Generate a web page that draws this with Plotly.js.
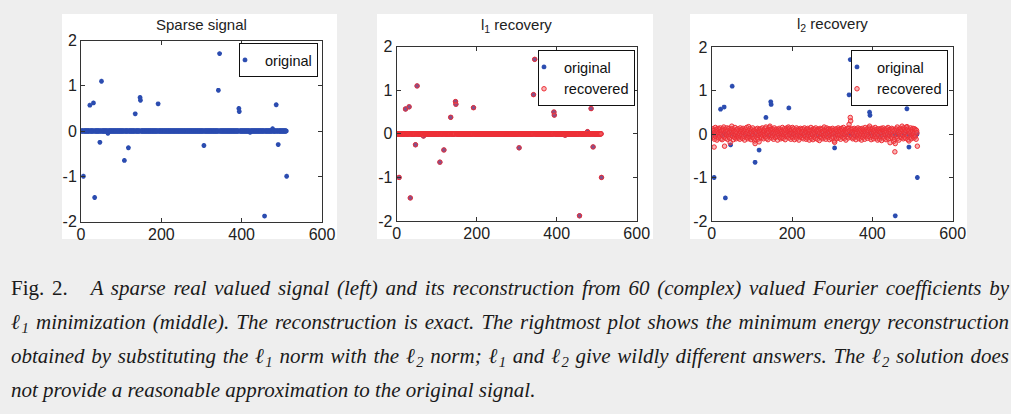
<!DOCTYPE html>
<html>
<head>
<meta charset="utf-8">
<script src="https://cdn.plot.ly/plotly-3.0.1.min.js"></script>
<style>
html,body{margin:0;padding:0;background:#eeeeee;overflow:hidden;width:1011px;height:414px;}
#chart{position:absolute;left:0;top:0;width:1011px;height:414px;}
#caption{position:absolute;left:11px;top:271px;width:998px;font-family:'Liberation Serif','Times New Roman',serif;font-size:21px;color:#1a1a1a;}
#caption .ln{height:34px;line-height:34px;white-space:nowrap;text-align:justify;text-align-last:justify;font-style:italic;}
#caption .ln.last{text-align:left;text-align-last:left;}
#caption .up{font-style:normal;}
#caption sub{font-size:0.7em;line-height:0;vertical-align:-0.3em;}
</style>
</head>
<body>
<div id="chart"></div>
<div id="caption"></div>
<script>
// ---- data ----
const signalLength = 512;
const spikeIdx = [6, 22, 31, 34, 47, 51, 67, 108, 118, 135, 147, 148, 192, 306, 342, 345, 393, 394, 421, 457, 477, 486, 491, 512];
const spikeVal = [-1.00, 0.57, 0.62, -1.47, -0.25, 1.10, -0.05, -0.65, -0.37, 0.38, 0.74, 0.68, 0.60, -0.32, 0.90, 1.71, 0.50, 0.43, -0.03, -1.88, 0.05, 0.58, -0.30, -1.00];
const l2Recovered = [
0.05,-0.08,0.12,-0.03,0.09,-0.30,-0.12,0.04,0.15,-0.06,0.02,0.11,-0.14,0.07,-0.02,0.13,-0.09,0.03,0.10,-0.05,0.14,0.06,-0.11,0.01,0.08,-0.13,0.12,-0.04,0.09,0.16,-0.07,-0.28,
0.03,0.11,-0.10,0.06,-0.02,0.14,-0.12,0.08,0.00,-0.06,0.13,0.04,-0.09,-0.20,0.10,-0.03,0.07,0.18,0.12,-0.05,0.02,-0.13,0.09,0.05,-0.08,0.15,-0.01,0.06,-0.11,0.10,0.03,-0.07,
0.12,-0.04,-0.09,0.08,0.01,-0.12,0.14,0.05,-0.06,0.10,-0.02,0.07,-0.10,0.13,0.03,-0.05,0.09,-0.14,0.06,0.11,-0.03,0.02,0.15,-0.08,0.04,-0.11,0.08,0.17,-0.06,0.01,0.12,-0.09,
0.05,-0.13,0.10,0.03,-0.07,0.14,-0.02,0.06,-0.10,0.09,-0.16,-0.22,0.04,-0.05,0.11,0.02,-0.08,0.13,-0.12,0.07,-0.03,-0.18,0.10,0.05,-0.06,0.12,0.00,-0.09,0.08,0.14,-0.04,0.03,
-0.11,0.09,0.06,-0.02,0.13,-0.07,0.16,0.04,-0.10,0.08,0.01,-0.13,0.11,0.05,-0.05,0.15,0.18,0.10,-0.03,0.07,-0.09,0.12,0.02,-0.06,0.10,-0.12,0.04,0.14,-0.01,0.08,-0.08,0.03,
0.11,-0.05,0.07,-0.14,0.02,0.09,-0.03,0.13,-0.08,0.05,0.10,-0.11,0.01,0.06,-0.07,0.15,0.03,-0.10,0.08,-0.02,0.12,0.04,-0.13,0.09,0.00,-0.06,0.14,0.07,-0.04,0.11,0.16,-0.09,
0.06,0.13,-0.02,0.08,-0.12,0.03,0.10,-0.06,0.15,-0.09,0.04,0.12,-0.01,-0.13,0.07,0.09,-0.05,0.02,0.14,-0.10,0.05,-0.03,0.11,0.08,-0.14,0.01,0.06,-0.07,0.13,-0.04,0.10,0.03,
-0.08,0.12,0.05,-0.11,0.09,-0.02,0.14,0.00,-0.06,0.07,-0.12,0.11,0.04,-0.09,0.13,-0.03,0.06,0.10,-0.14,0.02,0.08,-0.05,0.15,-0.10,0.03,0.09,-0.01,-0.13,0.12,0.05,-0.07,0.11,
0.02,-0.10,0.14,0.07,-0.04,0.09,-0.12,0.05,0.11,-0.02,0.08,-0.15,0.03,0.13,-0.06,0.10,-0.09,0.01,0.12,0.06,-0.11,0.04,-0.03,0.16,-0.07,0.09,0.00,-0.12,0.07,0.14,-0.05,0.02,
0.10,-0.08,0.06,0.12,-0.13,0.03,-0.04,0.11,0.08,-0.10,0.05,-0.01,0.13,-0.07,0.02,0.09,-0.16,-0.19,0.04,0.10,-0.06,0.12,-0.11,0.07,0.01,-0.03,0.14,-0.09,0.05,0.11,-0.02,0.08,
-0.12,0.06,0.13,-0.05,0.02,0.10,-0.08,0.15,0.04,-0.10,0.09,-0.01,0.07,-0.14,0.11,0.03,-0.06,0.12,0.05,-0.09,0.14,0.22,0.08,-0.03,0.38,0.30,0.10,-0.07,0.04,0.12,-0.11,0.06,
0.01,-0.09,0.13,0.07,-0.04,0.10,-0.13,0.05,0.02,0.11,-0.07,0.14,-0.02,0.08,-0.11,0.04,0.12,-0.05,0.09,0.00,-0.14,0.06,0.13,-0.08,0.03,0.10,-0.03,0.07,-0.12,0.15,0.05,-0.06,
0.09,-0.01,0.12,-0.10,0.04,0.08,-0.05,0.14,0.18,0.11,-0.08,0.06,-0.13,0.02,0.10,-0.04,0.13,0.07,-0.11,0.03,0.09,-0.06,0.15,-0.02,0.05,-0.09,0.11,0.01,-0.14,0.08,0.12,-0.03,
0.06,-0.12,0.10,0.04,-0.07,0.13,-0.15,0.02,0.09,-0.05,0.14,0.07,-0.10,0.03,0.11,-0.02,0.08,-0.13,0.05,0.12,-0.08,0.00,0.15,-0.11,0.06,0.10,-0.04,-0.20,0.09,0.03,-0.07,0.13,
-0.09,0.05,0.11,-0.03,-0.17,0.08,-0.12,-0.41,-0.22,0.04,0.12,-0.06,0.09,0.16,-0.10,0.03,0.07,-0.14,0.11,0.01,-0.05,0.13,0.06,-0.08,0.10,0.18,-0.02,0.09,-0.11,0.14,0.04,-0.07,
0.12,0.03,-0.10,0.08,0.15,0.17,-0.04,0.11,-0.13,0.06,-0.16,0.09,0.02,-0.08,0.14,0.05,-0.11,0.10,-0.03,0.07,0.13,-0.06,0.01,-0.09,0.12,0.04,-0.05,0.10,-0.12,0.08,0.03,-0.28
];
const xTicks = [0, 200, 400, 600];
const yTicks = [-2, -1, 0, 1, 2];
const panelTitles = ['Sparse signal', 'l<sub>1</sub> recovery', 'l<sub>2</sub> recovery'];
const captionLines = [
  '<span class="up">Fig. 2.</span>&nbsp;&nbsp; A sparse real valued signal (left) and its reconstruction from 60 (complex) valued Fourier coefficients by',
  'ℓ<sub>1</sub> minimization (middle). The reconstruction is exact. The rightmost plot shows the minimum energy reconstruction',
  'obtained by substituting the ℓ<sub>1</sub> norm with the ℓ<sub>2</sub> norm; ℓ<sub>1</sub> and ℓ<sub>2</sub> give wildly different answers. The ℓ<sub>2</sub> solution does',
  'not provide a reasonable approximation to the original signal.'
];

// ---- derived series ----
const indices = Array.from({length: signalLength}, (_, i) => i + 1);
const original = indices.map(i => { const k = spikeIdx.indexOf(i); return k >= 0 ? spikeVal[k] : 0; });
const l1Recovered = original.slice(); // exact reconstruction
const l2x = l2Recovered.map((_, i) => i + 1);

// ---- caption (real text, justified like the paper) ----
const cap = document.getElementById('caption');
captionLines.forEach((t, i) => {
  const d = document.createElement('div');
  d.className = 'ln' + (i === captionLines.length - 1 ? ' last' : '');
  d.innerHTML = t;
  cap.appendChild(d);
});

// ---- styling ----
const W = 1011, H = 414;
const BLUE = '#2b4cb0', RED = '#ee2f36';
const px = v => v / W, py = v => 1 - v / H;
const blueMarker = {symbol: 'asterisk-open', size: 4, color: BLUE, line: {color: BLUE, width: 1.5}};
const redMarker = {symbol: 'circle', size: 4.5, color: 'rgba(240,90,95,0.45)', line: {color: RED, width: 1}};

const traces = [
  {x: indices, y: original, xaxis: 'x', yaxis: 'y', mode: 'markers', name: 'original', marker: blueMarker, legend: 'legend'},
  {x: indices, y: original, xaxis: 'x2', yaxis: 'y2', mode: 'markers', name: 'original', marker: blueMarker, legend: 'legend2'},
  {x: indices, y: l1Recovered, xaxis: 'x2', yaxis: 'y2', mode: 'markers', name: 'recovered', marker: redMarker, legend: 'legend2'},
  {x: indices, y: original, xaxis: 'x3', yaxis: 'y3', mode: 'markers', name: 'original', marker: blueMarker, legend: 'legend3'},
  {x: l2x, y: l2Recovered, xaxis: 'x3', yaxis: 'y3', mode: 'markers', name: 'recovered', marker: redMarker, legend: 'legend3'}
];

const tickFont = {family: 'Liberation Sans, Arial, sans-serif', size: 16, color: '#222'};
function xa(l, r, anchor) {
  return {domain: [px(l), px(r)], anchor: anchor, range: [0, 600], tickvals: xTicks, ticktext: xTicks.map(String),
    ticks: 'inside', ticklen: 4, tickcolor: '#333', mirror: 'ticks', showline: true, linecolor: '#333', linewidth: 1,
    showgrid: false, zeroline: false, tickfont: tickFont, ticklabelstandoff: -2, fixedrange: true};
}
function ya(t, b, anchor) {
  return {domain: [py(b), py(t)], anchor: anchor, range: [-2, 2], tickvals: yTicks, ticktext: yTicks.map(v => v < 0 ? '-' + Math.abs(v) : String(v)),
    ticks: 'inside', ticklen: 4, tickcolor: '#333', mirror: 'ticks', showline: true, linecolor: '#333', linewidth: 1,
    showgrid: false, zeroline: false, tickfont: tickFont, ticklabelstandoff: 0, fixedrange: true};
}
const legendBase = {bgcolor: '#ffffff', bordercolor: '#111', borderwidth: 1, font: {family: 'Liberation Sans, Arial, sans-serif', size: 14.5, color: '#111'},
  xanchor: 'right', yanchor: 'top', itemwidth: 30, tracegroupgap: 0, indentation: -15};

const panels = [[62, 337], [377, 653], [690, 967]];
const shapes = panels.map(p => ({type: 'rect', xref: 'paper', yref: 'paper', x0: px(p[0]), x1: px(p[1]), y0: py(239), y1: py(14),
  fillcolor: '#ffffff', line: {width: 0}, layer: 'below'}));

const titleCenters = [[201.5, 24], [516.7, 25], [832.2, 24]];
const annotations = panelTitles.map((t, i) => ({text: t, xref: 'paper', yref: 'paper', x: px(titleCenters[i][0]), y: py(titleCenters[i][1]),
  xanchor: 'center', yanchor: 'middle', showarrow: false, font: {family: 'Liberation Sans, Arial, sans-serif', size: 15, color: '#222'}}));

const layout = {
  width: W, height: H, margin: {l: 0, r: 0, t: 0, b: 0},
  paper_bgcolor: 'rgba(0,0,0,0)', plot_bgcolor: '#ffffff', showlegend: true,
  xaxis: xa(81, 322, 'y'), yaxis: ya(40.5, 221.5, 'x'),
  xaxis2: xa(396.7, 636.7, 'y2'), yaxis2: ya(46.7, 221, 'x2'),
  xaxis3: xa(711.7, 952.7, 'y3'), yaxis3: ya(47, 221, 'x3'),
  legend: Object.assign({}, legendBase, {x: px(318), y: py(43)}),
  legend2: Object.assign({}, legendBase, {x: px(635), y: py(50)}),
  legend3: Object.assign({}, legendBase, {x: px(948), y: py(50)}),
  shapes: shapes, annotations: annotations
};

Plotly.newPlot('chart', traces, layout, {displayModeBar: false, staticPlot: true});
</script>
</body>
</html>
